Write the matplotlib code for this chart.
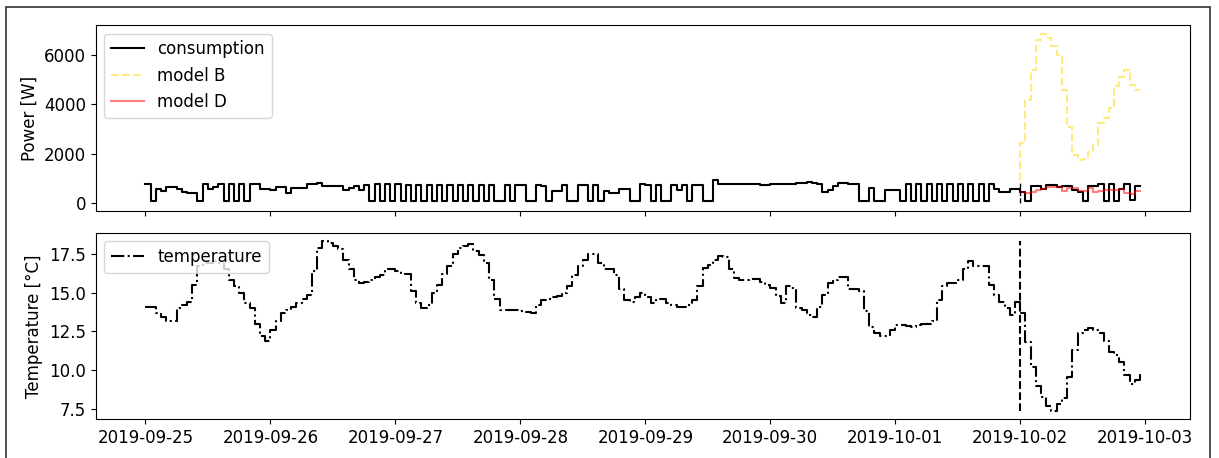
"""
plot consumption, model forecasts and outdoor temperature

"""
import numpy as np
import pandas as pd
import matplotlib
matplotlib.use('Agg')
import matplotlib.pyplot as plt
from matplotlib.patches import Rectangle

# --- Data (hourly)
t_start = '2019-09-25 00:00'
t_fcst  = '2019-10-02 00:00'

consumption = [
    # 2019-09-25
    780, 80, 600, 520, 650, 650, 570, 480, 420, 420, 80, 780, 600, 650, 780, 80, 780, 80, 780, 80, 780, 780, 580, 580,
    # 2019-09-26
    560, 650, 650, 420, 620, 620, 620, 780, 780, 830, 700, 700, 720, 720, 560, 640, 720, 560, 760, 80, 780, 80, 780, 80,
    # 2019-09-27
    780, 80, 750, 80, 750, 80, 750, 80, 750, 80, 750, 80, 750, 80, 750, 80, 750, 80, 750, 80, 80, 750, 80, 750,
    # 2019-09-28
    750, 80, 80, 750, 700, 80, 520, 520, 750, 80, 80, 750, 750, 80, 750, 80, 520, 420, 420, 600, 600, 80, 80, 780,
    # 2019-09-29
    750, 80, 750, 80, 80, 750, 560, 750, 80, 750, 750, 80, 80, 950, 790, 780, 780, 770, 790, 780, 770, 770, 760, 760,
    # 2019-09-30
    770, 770, 780, 800, 790, 830, 820, 850, 810, 790, 460, 560, 720, 830, 830, 800, 800, 80, 80, 620, 80, 80, 560, 560,
    # 2019-10-01
    560, 80, 780, 80, 780, 80, 780, 80, 780, 80, 780, 80, 780, 80, 780, 80, 780, 80, 780, 600, 480, 480, 600, 600,
    # 2019-10-02
    450, 80, 700, 700, 600, 760, 760, 650, 720, 720, 540, 450, 80, 700, 700, 800, 80, 780, 80, 600, 780, 150, 700, 700,
]

model_b = [930, 2420, 4175, 5390, 6600, 6850, 6675, 6340, 6000, 4580, 3090, 1945,
           1740, 1800, 2080, 2350, 3230, 3430, 3840, 4720, 5120, 5390, 4780, 4580]

model_d = [480, 420, 460, 550, 590, 650, 650, 650, 520, 620, 620, 520,
           520, 620, 460, 500, 560, 560, 560, 600, 420, 400, 500, 500]

temperature = [
    14.1, 14.1, 13.7, 13.4, 13.2, 13.2, 14.0, 14.2, 14.4, 15.5, 16.7, 16.9, 16.9, 17.0, 16.9, 16.5, 15.8, 15.4, 15.0, 14.3, 14.0, 13.0, 12.2, 11.9,
    12.6, 13.2, 13.7, 13.9, 14.1, 14.3, 14.6, 14.85, 16.4, 17.9, 18.3, 18.2, 18.0, 17.8, 17.1, 16.5, 15.8, 15.6, 15.7, 15.8, 16.0, 16.1, 16.5, 16.5,
    16.4, 16.2, 16.2, 15.1, 14.3, 14.0, 14.2, 15.0, 15.5, 16.2, 16.7, 17.5, 17.9, 18.0, 18.1, 17.7, 17.4, 16.9, 15.8, 14.6, 13.9, 13.9, 13.9, 13.85,
    13.8, 13.75, 13.7, 14.2, 14.5, 14.6, 14.7, 14.75, 15.0, 15.4, 16.15, 16.7, 17.1, 17.5, 17.5, 16.9, 16.5, 16.5, 16.15, 15.2, 14.5, 14.4, 14.7, 15.0,
    14.7, 14.3, 14.6, 14.6, 14.3, 14.2, 14.1, 14.1, 14.2, 14.5, 15.4, 16.6, 16.8, 17.1, 17.35, 17.3, 16.5, 15.95, 15.8, 15.8, 15.9, 15.9, 15.7, 15.5,
    15.3, 14.75, 14.3, 15.4, 15.3, 14.0, 13.85, 13.55, 13.45, 14.1, 14.85, 15.6, 15.8, 16.0, 16.0, 15.2, 15.2, 15.1, 13.8, 12.8, 12.4, 12.2, 12.2, 12.6,
    12.9, 12.9, 12.85, 12.8, 12.9, 13.0, 13.0, 13.2, 14.5, 15.4, 15.6, 15.6, 15.8, 16.5, 17.0, 16.7, 16.7, 16.7, 15.5, 14.85, 14.4, 14.0, 13.55, 14.4,
    13.7, 11.8, 10.2, 9.0, 8.25, 7.7, 7.4, 7.8, 8.2, 9.55, 11.3, 12.4, 12.6, 12.7, 12.6, 12.4, 11.9, 11.2, 11.0, 10.5, 9.7, 9.1, 9.35, 9.75,
]

t_hist = pd.date_range(t_start, periods=len(consumption), freq='h')
t_pred = pd.date_range(t_fcst,  periods=len(model_b),     freq='h')
t_fc   = pd.Timestamp(t_fcst)

plt.rcParams['font.size'] = 12

# --- Plot
fig, axes = plt.subplots(2, 1, sharex=True, figsize=(12.19, 4.58), dpi=100)
fig.subplots_adjust(left=0.0785, right=0.976, top=0.945, bottom=0.085, hspace=0.115)

ax = axes[0]
ax.plot(t_hist, consumption, '-', color='k', drawstyle='steps-post', label='consumption')
ax.plot(t_pred, model_b, '--', color='gold', alpha=0.5, drawstyle='steps-pre', label='model B')
ax.plot(t_pred, model_d, '-', color='red', alpha=0.5, drawstyle='steps-post', label='model D')
last_day = consumption[-len(model_b):]
ax.vlines(t_fc, min(last_day) - 60, max(last_day) + 30, colors='k', linestyles='--', lw=1)
ax.set_ylabel('Power [W]')
ax.legend(loc='upper left')

ax = axes[1]
ax.plot(t_hist, temperature, '-.', color='k', drawstyle='steps-post', label='temperature')
ax.vlines(t_fc, min(temperature), max(temperature), colors='k', linestyles='--')
ax.set_ylabel('Temperature [°C]')
ax.legend(loc='upper left')
ax.tick_params(axis='x', labelbottom=True)

# frame around the figure
fig.add_artist(Rectangle((6 / 1219, -0.02), 1204 / 1219, 1.0 - 7 / 458 + 0.02,
                         transform=fig.transFigure, fill=False, ec='#333333', lw=1.2))

fig.savefig('out.png', dpi=100)
